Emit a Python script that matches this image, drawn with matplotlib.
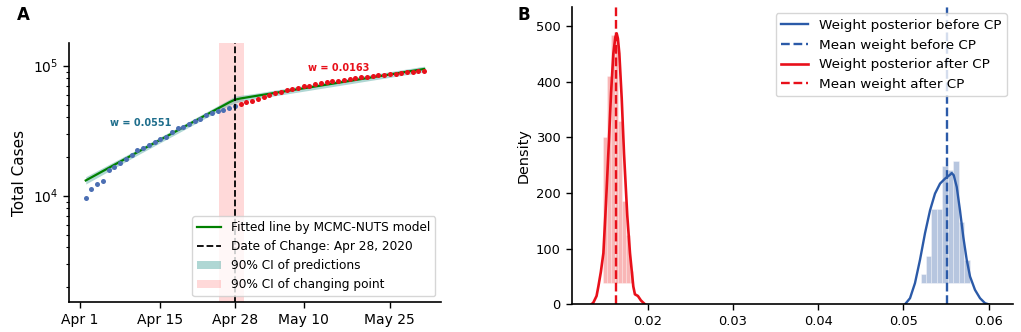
import numpy as np
import matplotlib
matplotlib.use("Agg")
import matplotlib.pyplot as plt
from matplotlib.lines import Line2D
from matplotlib.patches import Patch
from matplotlib.ticker import NullFormatter

###################
# data
###################

# panel A: daily totals, Apr 2 - Apr 28 (before CP) and Apr 29 - May 31 (after CP)
dates_before = np.arange("2020-04-02", "2020-04-29", dtype="datetime64[D]")
cases_before = [9550, 11260, 12300, 12900, 15760, 16630, 17940, 19160, 20570,
                22350, 23150, 24680, 26030, 27160, 28440, 30740, 33000, 33950,
                35610, 37760, 39120, 41540, 43040, 44830, 45630, 47030, 48980]
dates_after = np.arange("2020-04-29", "2020-06-01", dtype="datetime64[D]")
cases_after = [50480, 52300, 53800, 55150, 57140, 59830, 61330, 63100, 64700,
               66200, 67750, 69440, 70200, 71950, 73230, 74550, 75860, 76670,
               78040, 79010, 80000, 81430, 82300, 83330, 84370, 85270, 86340,
               86800, 87860, 88970, 89440, 90560, 91040]

fit_dates = np.array(["2020-04-02", "2020-04-11", "2020-04-21", "2020-04-27",
                      "2020-04-28", "2020-04-29", "2020-05-01", "2020-05-11",
                      "2020-05-21", "2020-05-31"], dtype="datetime64[D]")
fit_cases = [13100, 21600, 37500, 52200, 54800, 56000, 57900, 68100, 80200, 94400]
ci_low = [12300, 20500, 35600, 49600, 51500, 53200, 55000, 64700, 76200, 89700]
ci_high = [14000, 22700, 39400, 55000, 58300, 59200, 60800, 71500, 84200, 99100]

change_date = np.datetime64("2020-04-28")
cp_ci = [np.datetime64("2020-04-25T07:00"), np.datetime64("2020-04-29T12:00")]

tick_dates = np.array(["2020-04-01", "2020-04-15", "2020-04-28", "2020-05-10",
                       "2020-05-25"], dtype="datetime64[D]")
tick_labels = ["Apr 1", "Apr 15", "Apr 28", "May 10", "May 25"]

# panel B: posterior of the weights
kde_before_x = [0.05018, 0.05077, 0.05135, 0.05194, 0.05253, 0.05312, 0.0537,
                0.05429, 0.05488, 0.05547, 0.05566, 0.05590, 0.05625, 0.05663,
                0.05702, 0.05742, 0.05781, 0.05839, 0.05898, 0.05957, 0.0600]
kde_before_y = [0, 11, 38, 80, 128, 169, 199, 217, 226, 233, 236, 232, 211, 169,
                121, 80, 50, 26, 11, 2, 0]
kde_after_x = [0.01340, 0.01362, 0.01400, 0.01421, 0.01450, 0.01480, 0.01510,
               0.01538, 0.01570, 0.01597, 0.01620, 0.01636, 0.01650, 0.01667,
               0.01695, 0.01722, 0.01760, 0.01792, 0.01831, 0.01850, 0.01885,
               0.01920, 0.01968]
kde_after_y = [0, 3, 15, 32, 58, 92, 180, 271, 380, 451, 480, 487, 478, 451,
               370, 271, 160, 92, 32, 18, 15, 7, 0]

hist_before_edges = [0.0520, 0.05264, 0.05328, 0.05392, 0.05456, 0.0552,
                     0.05584, 0.05648, 0.05712, 0.05776]
hist_before_tops = [54, 87, 172, 172, 248, 241, 257, 148, 80]
hist_after_edges = [0.0148, 0.01524, 0.01568, 0.01612, 0.01656, 0.0170,
                    0.01744, 0.01788, 0.01832]
hist_after_tops = [300, 410, 485, 480, 330, 185, 125, 60]
hist_base = 38

mean_before = 0.0551
mean_after = 0.0163

###################
# figure
###################

blue = "#2b5aa8"
red = "#e8101a"

fig = plt.figure(figsize=(10.21, 3.32), dpi=100)
axA = fig.add_axes([0.0676, 0.0895, 0.3643, 0.780])
axB = fig.add_axes([0.560, 0.0834, 0.4325, 0.8964])

# ---- A ----
axA.axvspan(cp_ci[0], cp_ci[1], color="red", alpha=0.15, lw=0, zorder=0)
axA.fill_between(fit_dates, ci_low, ci_high, color="#4fa7a0", alpha=0.45,
                 lw=0, zorder=1)
axA.plot(fit_dates, fit_cases, color="green", lw=1.6, zorder=2)
axA.scatter(dates_before, cases_before, s=13, color="#4c6fb3", lw=0, zorder=3)
axA.scatter(dates_after, cases_after, s=13, color=red, lw=0, zorder=3)
axA.axvline(change_date, color="black", ls="--", lw=1.3, zorder=4)

axA.text(np.datetime64("2020-04-06T05:00"), 36000, "w = 0.0551",
         color="#1f6e8c", fontsize=7, fontweight="bold", va="center")
axA.text(np.datetime64("2020-05-10T19:00"), 96500, "w = 0.0163",
         color=red, fontsize=7, fontweight="bold", va="center")

axA.set_yscale("log")
axA.set_ylim(1514, 1.486e5)
axA.set_xlim(np.datetime64("2020-03-30T02:00"), np.datetime64("2020-06-02T22:00"))
axA.set_xticks(tick_dates)
axA.set_xticklabels(tick_labels)
axA.yaxis.set_minor_formatter(NullFormatter())
axA.tick_params(labelsize=10, length=4.5, width=1)
axA.tick_params(which="minor", length=2.5, width=0.8)
axA.set_ylabel("Total Cases", fontsize=11)
for s in ["top", "right"]:
    axA.spines[s].set_visible(False)
for s in ["left", "bottom"]:
    axA.spines[s].set_linewidth(1.2)

handlesA = [
    Line2D([], [], color="green", lw=1.6),
    Line2D([], [], color="black", ls="--", lw=1.3),
    Patch(facecolor="#4fa7a0", alpha=0.45, lw=0),
    Patch(facecolor="red", alpha=0.15, lw=0),
]
labelsA = ["Fitted line by MCMC-NUTS model", "Date of Change: Apr 28, 2020",
           "90% CI of predictions", "90% CI of changing point"]
axA.legend(handlesA, labelsA, loc="lower right", fontsize=8.7)

# ---- B ----
top_b = np.array(hist_before_tops) - hist_base
top_a = np.array(hist_after_tops) - hist_base
axB.bar(hist_before_edges[:-1], top_b, width=np.diff(hist_before_edges),
        bottom=hist_base, align="edge", color="#4c72b0", alpha=0.4,
        edgecolor="white", lw=0.6)
axB.bar(hist_after_edges[:-1], top_a, width=np.diff(hist_after_edges),
        bottom=hist_base, align="edge", color="#f03030", alpha=0.35,
        edgecolor="white", lw=0.6)

axB.plot(kde_before_x, kde_before_y, color=blue, lw=1.7,
         label="Weight posterior before CP")
axB.axvline(mean_before, color=blue, ls="--", lw=1.7,
            label="Mean weight before CP")
axB.plot(kde_after_x, kde_after_y, color=red, lw=1.9,
         label="Weight posterior after CP")
axB.axvline(mean_after, color=red, ls="--", lw=1.7,
            label="Mean weight after CP")

axB.set_xlim(0.01109, 0.06289)
axB.set_ylim(0, 535)
axB.set_xticks([0.02, 0.03, 0.04, 0.05, 0.06])
axB.set_yticks([0, 100, 200, 300, 400, 500])
axB.tick_params(labelsize=9.4, length=4.5, width=1)
axB.set_ylabel("Density", fontsize=10.4)
for s in ["top", "right"]:
    axB.spines[s].set_visible(False)
for s in ["left", "bottom"]:
    axB.spines[s].set_linewidth(1.2)
axB.legend(loc="upper right", fontsize=9.7)

fig.text(0.0165, 0.955, "A", fontsize=12, fontweight="bold", va="center")
fig.text(0.5065, 0.955, "B", fontsize=12, fontweight="bold", va="center")

fig.savefig("out.png", dpi=100)
